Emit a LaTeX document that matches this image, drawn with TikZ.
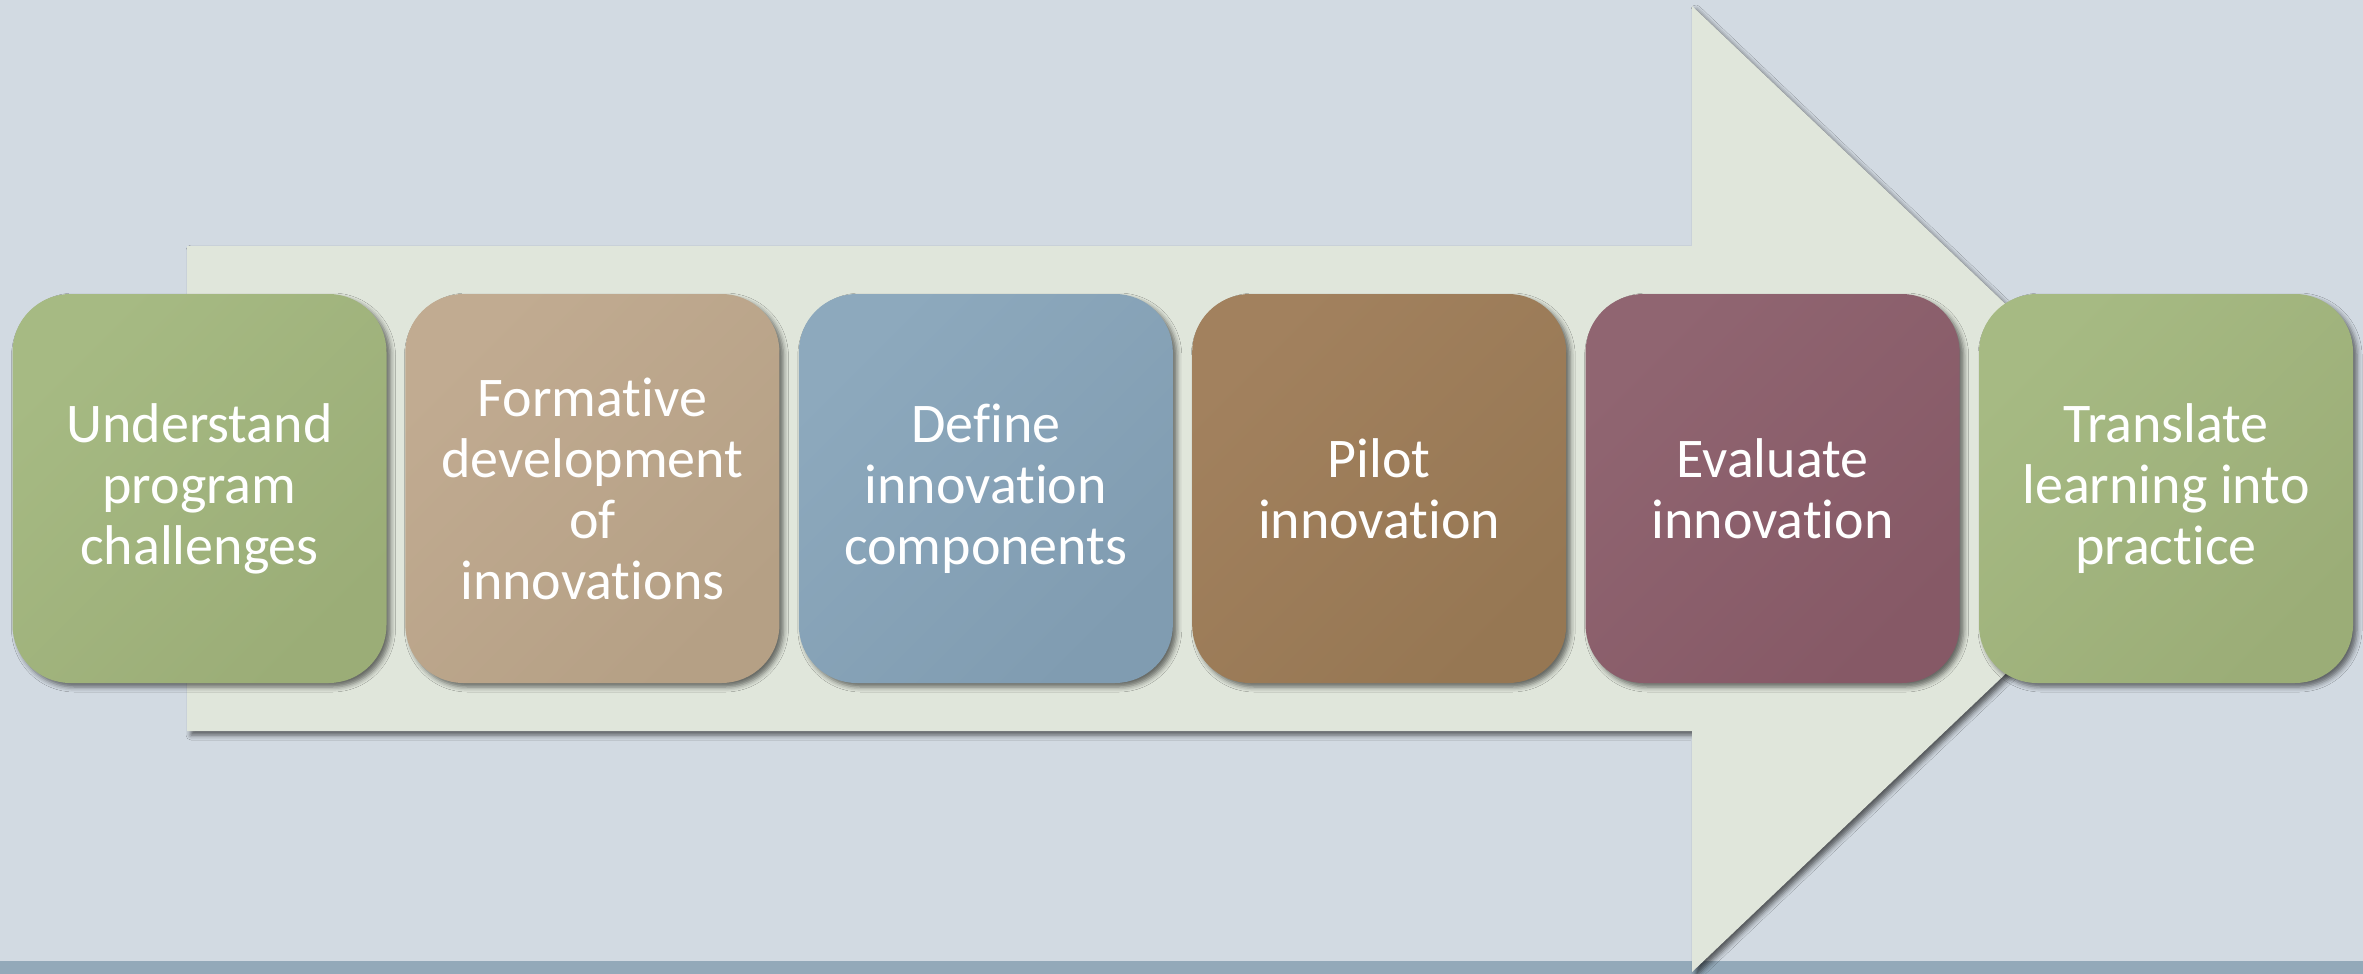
\documentclass[tikz,border=0pt]{standalone}
\usepackage{fontspec}
\setmainfont{Carlito}[RawFeature={-liga;-clig;-calt;-dlig}]
\usetikzlibrary{shadows.blur}
\definecolor{bg}{HTML}{D2DAE2}
\definecolor{band}{HTML}{93A9B9}
\definecolor{arrowfill}{HTML}{E0E6DB}
\definecolor{gA}{HTML}{A6BA83}\definecolor{gB}{HTML}{9BAD77}
\definecolor{tA}{HTML}{C1AB91}\definecolor{tB}{HTML}{B5A085}
\definecolor{uA}{HTML}{8DA9BD}\definecolor{uB}{HTML}{809CB1}
\definecolor{bA}{HTML}{A2815E}\definecolor{bB}{HTML}{967753}
\definecolor{mA}{HTML}{906571}\definecolor{mB}{HTML}{865966}
\tikzset{
  stepbox/.style={rounded corners=29pt, minimum width=187pt, minimum height=194.5pt,
    inner sep=0pt, align=center, text=white,
    font=\fontsize{28}{30.5}\selectfont,
    blur shadow={shadow xshift=2pt, shadow yshift=-2pt, shadow blur radius=2.5pt, shadow opacity=55}},
  shadedbox/.style 2 args={top color=#1, bottom color=#2, shading angle=45},
}
\begin{document}
\begin{tikzpicture}[x=0.5pt,y=-0.5pt]
\fill[bg] (0,0) rectangle (2363,974);
\useasboundingbox (0,0) rectangle (2363,974);
\fill[band] (0,961) rectangle (2363,974);
\fill[arrowfill, blur shadow={shadow xshift=2pt, shadow yshift=-2pt, shadow blur radius=2.5pt, shadow opacity=60}]
  (187,246) -- (1692,246) -- (1692,6) -- (2200,489) -- (1692,972) -- (1692,731) -- (187,731) -- cycle;
\node[stepbox, shadedbox={gA}{gB}] (b1) at (199.5,488.5) {Understand\\program\\challenges};
\node[stepbox, shadedbox={tA}{tB}] (b2) at (592.4,488.5) {Formative\\development\\of\\innovations};
\node[stepbox, shadedbox={uA}{uB}] (b3) at (985.8,488.5) {Define\\innovation\\components};
\node[stepbox, shadedbox={bA}{bB}] (b4) at (1379.2,488.5) {Pilot\\innovation};
\node[stepbox, shadedbox={mA}{mB}] (b5) at (1772.6,488.5) {Evaluate\\innovation};
\node[stepbox, shadedbox={gA}{gB}] (b6) at (2166,488.5) {Translate\\learning into\\practice};
\end{tikzpicture}
\end{document}
